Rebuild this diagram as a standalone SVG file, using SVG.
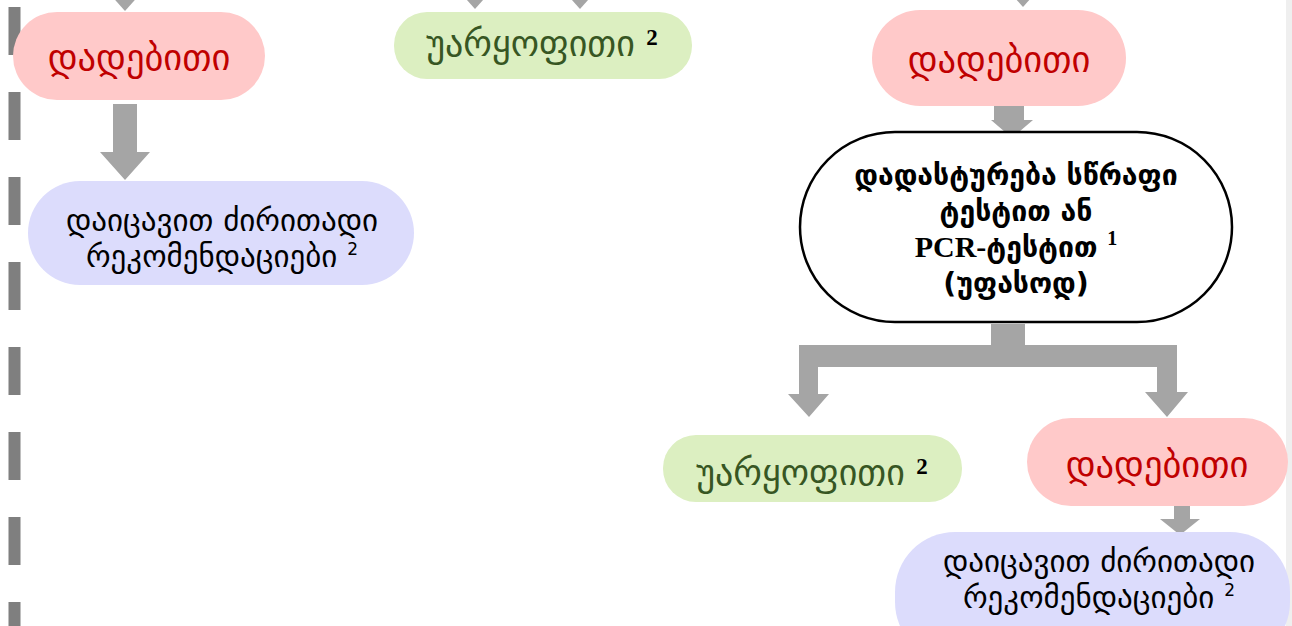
<svg xmlns="http://www.w3.org/2000/svg" width="1292" height="626" viewBox="0 0 1292 626">
<style>
.geo{font-family:"DejaVu Sans","Noto Sans",sans-serif;text-anchor:middle}
.red{fill:#c00000;font-size:36.5px}
.grn{fill:#375623;font-size:36px}
.blk{fill:#000;font-size:31px}
.bold{font-weight:bold;font-size:28.4px}
.sup{font-family:"Liberation Serif",serif;font-weight:bold;fill:#000}
.pcr{font-family:"Liberation Serif",serif;font-weight:bold}
.pink{fill:#ffc9c9}
.green{fill:#dcefc1}
.blue{fill:#dcdcfc}
.arr{fill:#a5a5a5}
</style>
<rect x="0" y="0" width="1292" height="626" fill="#fff"/>
<rect x="1286" y="0" width="6" height="626" fill="#efefef"/>
<line x1="14.5" y1="7" x2="14.5" y2="626" stroke="#7f7f7f" stroke-width="12" stroke-dasharray="48 37"/>
<g id="connectors">
<polygon class="arr" points="100,-17 150,-17 125,11"/>
<polygon class="arr" points="450,-19 500,-19 475,9"/>
<polygon class="arr" points="555,-19 605,-19 580,9"/>
<polygon class="arr" points="998,-21 1048,-21 1023,7"/>
<polygon class="arr" points="113,104 137,104 137,152 150,152 125,180 100,152 113,152"/>
<polygon class="arr" points="994,106 1024,106 1024,120 1033,120 1012,138 991,120 994,120"/>
<polygon class="arr" points="991,324 1025,324 1025,345 1177,345 1177,392 1188,392 1167,417 1145,392 1157,392 1157,367 818,367 818,394 829,394 809,417 788,394 799,394 799,345 991,345"/>
<polygon class="arr" points="1174,506 1190,506 1190,519 1200,519 1180,535 1160,519 1174,519"/>
</g>
<g id="n1">
<rect class="pink" x="13" y="12" width="252" height="88" rx="44"/>
<text class="geo red" x="139" y="70">დადებითი</text>
</g>
<g id="n2">
<rect class="blue" x="28" y="181" width="386" height="104" rx="52"/>
<text class="geo blk" x="222" y="231">დაიცავით ძირითადი</text>
<text class="geo blk" x="222" y="267">რეკომენდაციები <tspan font-size="17" dy="-12">2</tspan></text>
</g>
<g id="n3">
<rect class="green" x="394" y="12" width="298" height="67" rx="33"/>
<text class="geo grn" x="542" y="56">უარყოფითი <tspan class="sup" font-size="23" dy="-11">2</tspan></text>
</g>
<g id="n4">
<rect class="pink" x="872" y="10" width="254" height="96" rx="48"/>
<text class="geo red" x="999" y="72">დადებითი</text>
</g>
<g id="n5">
<rect x="800" y="132" width="432" height="190" rx="95" fill="#fff" stroke="#000" stroke-width="2.5"/>
<text class="geo blk bold" x="1016" y="185">დადასტურება სწრაფი</text>
<text class="geo blk bold" x="1016" y="221">ტესტით ან</text>
<text class="geo blk bold" x="1016" y="257"><tspan class="pcr" font-size="30">PCR-</tspan>ტესტით <tspan class="pcr" font-size="20" dy="-12">1</tspan></text>
<text class="geo blk bold" x="1016" y="293">(უფასოდ)</text>
</g>
<g id="n6">
<rect class="green" x="663" y="435" width="299" height="67" rx="33"/>
<text class="geo grn" x="812" y="485">უარყოფითი <tspan class="sup" font-size="23" dy="-11">2</tspan></text>
</g>
<g id="n7">
<rect class="pink" x="1027" y="418" width="261" height="88" rx="44"/>
<text class="geo red" x="1157" y="477">დადებითი</text>
</g>
<g id="n8">
<rect class="blue" x="895" y="532" width="395" height="130" rx="60"/>
<text class="geo blk" x="1099" y="572">დაიცავით ძირითადი</text>
<text class="geo blk" x="1099" y="608">რეკომენდაციები <tspan font-size="17" dy="-12">2</tspan></text>
</g>
</svg>
